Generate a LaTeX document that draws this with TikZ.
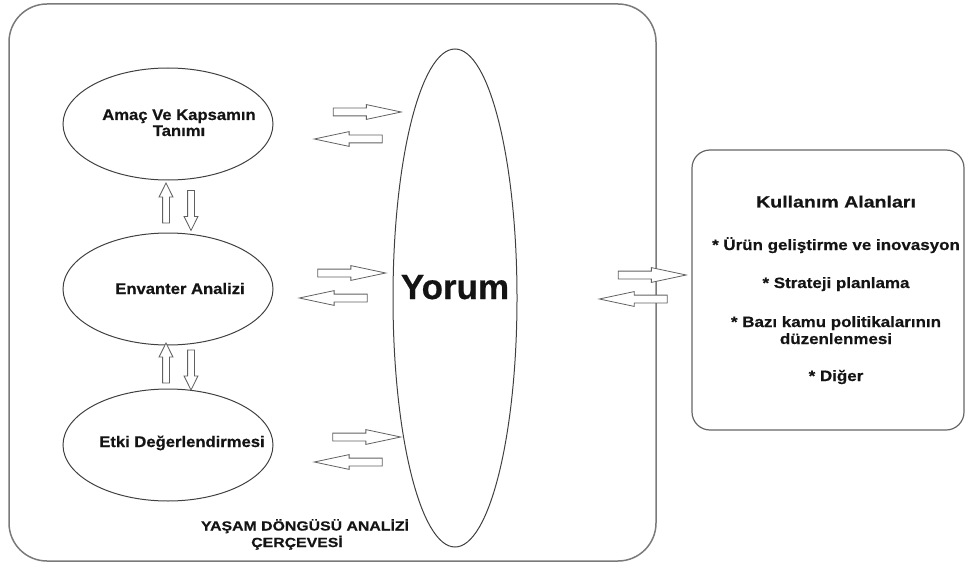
\documentclass[tikz,border=0pt]{standalone}
\usepackage{fontspec}
\setmainfont{Liberation Sans}[BoldFont={Liberation Sans Bold}, BoldFeatures={FakeBold=0.5}]
\newfontfamily\ellfont{Liberation Sans}[BoldFont={Liberation Sans Bold},
  FakeStretch=1.08, BoldFeatures={FakeBold=0.6}]
\newfontfamily\titlefont{Liberation Sans}[BoldFont={Liberation Sans Bold},
  FakeStretch=1.2, BoldFeatures={FakeBold=0.6}]
\newfontfamily\itemfont{Liberation Sans}[BoldFont={Liberation Sans Bold},
  FakeStretch=1.13, BoldFeatures={FakeBold=0.6}]
\usetikzlibrary{shapes.geometric,shapes.arrows}

\begin{document}
\begin{tikzpicture}[x=1pt,y=-1pt,
  frame/.style={draw=black!52, line width=1.5pt, rounded corners=38pt,
    inner sep=0pt, outer sep=0pt},
  usebox/.style={draw=black!60, line width=1.2pt, rounded corners=18pt,
    inner sep=0pt, outer sep=0pt},
  stage/.style={ellipse, draw=black!75, line width=1pt, inner sep=0pt,
    minimum width=210pt, minimum height=112pt},
  yorum/.style={ellipse, draw=black!75, line width=1pt, inner sep=0pt,
    minimum width=124pt, minimum height=498pt},
  harrow/.style={single arrow, draw=black!62, line width=0.8pt, fill=white,
    inner xsep=0pt, inner ysep=3.5pt, outer sep=0pt,
    single arrow head extend=3.5pt, single arrow tip angle=24,
    minimum height=68pt},
  varrow/.style={single arrow, draw=black!62, line width=0.8pt, fill=white,
    inner xsep=0pt, inner ysep=3pt, outer sep=0pt,
    single arrow head extend=3.5pt, single arrow tip angle=53,
    minimum height=40pt},
  elltext/.style={anchor=base, inner sep=0pt, text=black!92,
    font=\ellfont\bfseries\fontsize{15.4}{16.5}\selectfont},
  boxtitle/.style={anchor=base, inner sep=0pt, text=black!92,
    font=\titlefont\bfseries\fontsize{16.3}{18}\selectfont},
  boxtext/.style={anchor=base, inner sep=0pt, text=black!92,
    font=\itemfont\bfseries\fontsize{15}{17}\selectfont},
  frametext/.style={anchor=base, inner sep=0pt, text=black!92,
    font=\titlefont\bfseries\fontsize{13.2}{15}\selectfont},
]
\useasboundingbox (0,0) rectangle (968,564);

% outer framework and the application box
\node[frame, minimum width=647pt, minimum height=557pt] (frame) at (332.5,282.5) {};
\node[usebox, minimum width=272pt, minimum height=280pt] (uses) at (828,290) {};

% the three LCA phases
\node[stage] (scope) at (168,124) {};
\node[stage] (inventory) at (168,289) {};
\node[stage] (impact) at (168,445) {};

% interpretation
\node[yorum] (interp) at (455,298) {};
\node[anchor=base, inner sep=0pt, text=black!92,
  font=\bfseries\fontsize{35}{40}\selectfont] (interptext) at (455,299) {Yorum};

% phase labels
\node[elltext] (scopeA) at (179,120) {Amaç Ve Kapsamın};
\node[elltext] (scopeB) at (179,136) {Tanımı};
\node[elltext] (invtext) at (180,294) {Envanter Analizi};
\node[elltext] (imptext) at (182,447) {Etki Değerlendirmesi};

% framework caption
\node[frametext] (capA) at (305,530.5) {YAŞAM DÖNGÜSÜ ANALİZİ};
\node[frametext] (capB) at (297,547) {ÇERÇEVESİ};

% application areas
\node[boxtitle] (usetitle) at (836,207.5) {Kullanım Alanları};
\node[boxtext] (use1) at (836,250) {* Ürün geliştirme ve inovasyon};
\node[boxtext] (use2) at (836,288) {* Strateji planlama};
\node[boxtext] (use3a) at (836,327) {* Bazı kamu politikalarının};
\node[boxtext] (use3b) at (836,344) {düzenlenmesi};
\node[boxtext] (use4) at (836,381) {* Diğer};

% hollow arrows between phases and interpretation
\node[harrow] (a1r) at (358,112) {};
\node[harrow, rotate=180] (a1l) at (357.5,139) {};
\node[harrow] (a2r) at (342.5,273) {};
\node[harrow, rotate=180] (a2l) at (342.5,298) {};
\node[harrow] (a3r) at (357.5,437) {};
\node[harrow, rotate=180] (a3l) at (357.5,462) {};

% arrows to the application box
\node[harrow] (a4r) at (643,275) {};
\node[harrow, rotate=180] (a4l) at (642.5,299) {};

% vertical arrows between phases
\node[varrow, rotate=90] (v1u) at (166,206.5) {};
\node[varrow, rotate=-90] (v1d) at (191,207) {};
\node[varrow, rotate=90] (v2u) at (166,366.5) {};
\node[varrow, rotate=-90] (v2d) at (191,366.5) {};
\end{tikzpicture}
\end{document}
